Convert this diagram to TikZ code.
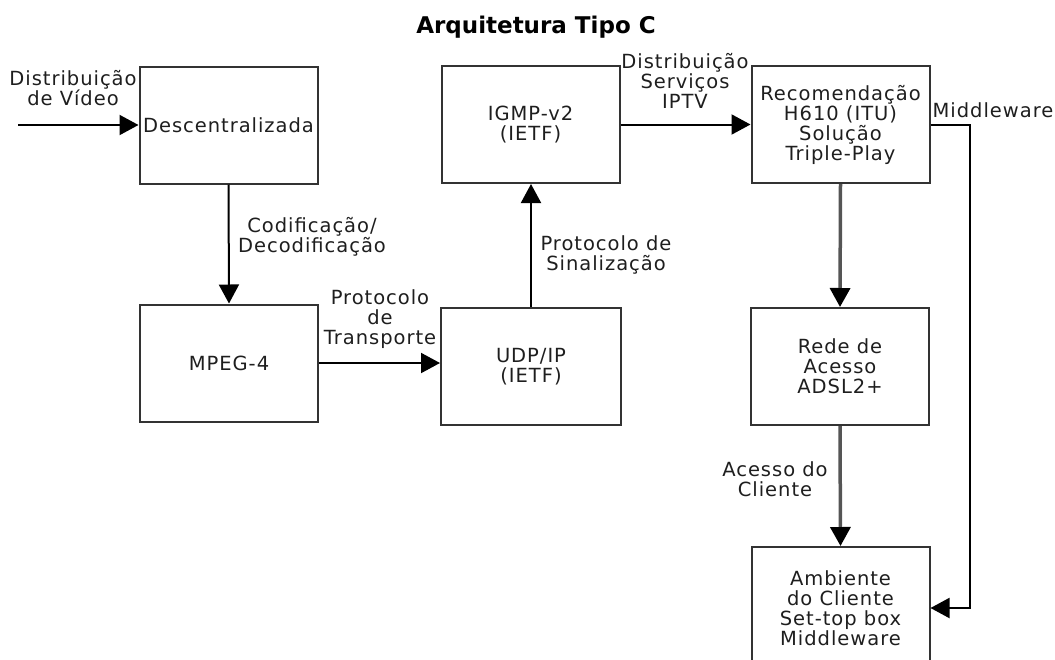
\documentclass[tikz,border=0pt]{standalone}
\usepackage{fontspec}
\setmainfont{DejaVu Sans}[LetterSpace=5]
\newfontfamily\titlefont{DejaVu Sans}
\usetikzlibrary{arrows.meta}
\definecolor{boxc}{HTML}{333333}
\definecolor{txtc}{HTML}{1E1E1E}
\definecolor{grayc}{HTML}{555555}
\tikzset{
  box/.style={draw=boxc, line width=2pt, minimum width=178pt, minimum height=117pt,
    align=center, inner sep=0pt, text=txtc, font=\fontsize{19.5}{20}\selectfont},
  lbl/.style={align=center, inner sep=0pt, text=txtc, font=\fontsize{19.5}{20}\selectfont},
  arr/.style={draw=black, line width=2pt, -{Triangle[width=20pt,length=19pt]}},
  garr/.style={draw=grayc, line width=3.5pt, -{Triangle[width=20pt,length=19pt,color=black]}},
}
\begin{document}
\begin{tikzpicture}[x=1pt,y=-1pt]
\useasboundingbox (0,0) rectangle (1055,659);
\clip (0,0) rectangle (1055,659);
\node[font=\titlefont\bfseries\fontsize{23}{24}\selectfont, text=black] (title) at (536,27) {Arquitetura Tipo C};

\node[box] (desc) at (228.5,125) {Descentralizada};
\node[box] (mpeg) at (229,363) {MPEG-4};
\node[box, minimum width=180pt] (udp) at (531,366.5) {UDP/IP\\(IETF)};
\node[box] (igmp) at (530.5,124.5) {IGMP-v2\\(IETF)};
\node[box] (h610) at (840.5,124.5) {Recomendação\\H610 (ITU)\\Solução\\Triple-Play};
\node[box] (rede) at (840,366.5) {Rede de\\Acesso\\ADSL2+};
\node[box, minimum height=122pt] (amb) at (840.5,608) {Ambiente\\do Cliente\\Set-top box\\Middleware};

\coordinate (inS) at (18,125);
\draw[arr] (inS) -- (desc.west);
\draw[arr] (desc.south) -- (mpeg.north);
\draw[arr] (mpeg.east) -- (mpeg.east -| udp.west);
\draw[arr] (udp.north) -- (udp.north |- igmp.south);
\draw[arr] (igmp.east) -- (igmp.east -| h610.west);
\draw[garr] (h610.south) -- (rede.north);
\draw[garr] (rede.south) -- (amb.north);
\draw[arr] (h610.east) -- ++(39,0) |- (amb.east);

\node[lbl] (l1) at (73,88) {Distribuição\\de Vídeo};
\node[lbl] (l2) at (312,237) {Codificação/\\Decodificação};
\node[lbl] (l3) at (380,319) {Protocolo\\de\\Transporte};
\node[lbl] (l4) at (606,255) {Protocolo de\\Sinalização};
\node[lbl] (l5) at (685,81) {Distribuição\\Serviços\\IPTV};
\node[lbl] (l6) at (993,110) {Middleware};
\node[lbl] (l7) at (775,479) {Acesso do\\Cliente};
\end{tikzpicture}
\end{document}
